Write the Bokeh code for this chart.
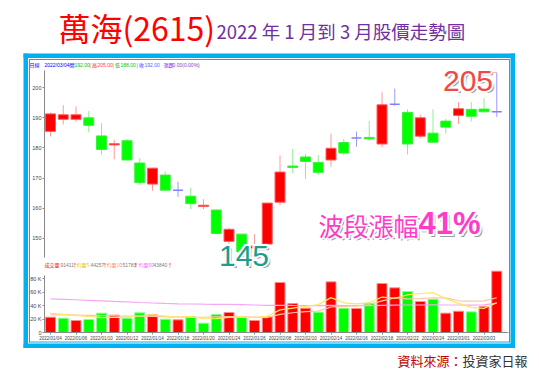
import numpy as np
import pandas as pd
from bokeh.plotting import figure
from bokeh.models import Range1d, LinearAxis, FixedTicker
from bokeh.core.properties import value
from bokeh.embed import file_html
from bokeh.resources import INLINE

# ---------------- data ----------------
dates = ["2022/01/04", "2022/01/05", "2022/01/06", "2022/01/07", "2022/01/10", "2022/01/11",
         "2022/01/12", "2022/01/13", "2022/01/14", "2022/01/17", "2022/01/18", "2022/01/19",
         "2022/01/20", "2022/01/21", "2022/01/24", "2022/01/25", "2022/01/26", "2022/02/07",
         "2022/02/08", "2022/02/09", "2022/02/10", "2022/02/11", "2022/02/14", "2022/02/15",
         "2022/02/16", "2022/02/17", "2022/02/18", "2022/02/21", "2022/02/22", "2022/02/23",
         "2022/02/24", "2022/02/25", "2022/03/01", "2022/03/02", "2022/03/03", "2022/03/04"]
opens = [185.5, 189.5, 189.5, 190.0, 184.0, 181.0, 182.4, 175.0, 168.0, 171.0, 166.0, 164.0,
         160.6, 159.4, 149.0, 151.4, 146.8, 148.1, 162.0, 174.0, 177.0, 175.2, 176.0, 181.8,
         183.3, 183.5, 181.3, 194.5, 191.8, 183.9, 184.9, 188.9, 190.8, 192.8, 192.9, 192.0]
highs = [191.7, 194.2, 193.8, 192.2, 188.2, 182.7, 182.9, 176.7, 173.4, 172.2, 168.8, 166.8,
         163.0, 159.6, 153.4, 151.6, 151.4, 161.8, 177.5, 179.7, 178.0, 177.6, 184.7, 183.0,
         185.4, 189.0, 198.5, 199.7, 192.8, 191.0, 192.8, 189.7, 195.2, 195.2, 196.5, 205.0]
lows = [183.8, 187.8, 188.7, 185.2, 177.8, 176.2, 175.9, 167.8, 165.8, 166.0, 163.8, 159.7,
        159.7, 151.5, 148.1, 145.0, 146.0, 148.0, 161.0, 171.6, 169.7, 171.0, 173.8, 177.6,
        180.4, 182.6, 180.2, 194.0, 177.8, 183.2, 181.5, 184.7, 188.0, 188.8, 191.7, 190.3]
closes = [191.3, 191.0, 191.0, 187.5, 179.5, 181.4, 176.0, 168.5, 173.3, 166.0, 166.0, 161.5,
          161.0, 151.6, 153.0, 145.5, 147.4, 161.7, 172.0, 173.5, 175.5, 171.9, 179.9, 178.3,
          183.3, 183.0, 194.3, 194.5, 181.3, 190.0, 181.9, 186.9, 193.0, 190.5, 192.0, 192.0]
volumes_k = [22.8, 21.3, 17.9, 19.4, 28.8, 25.8, 21.3, 29.3, 26.3, 19.8, 18.9, 23.4,
             13.9, 26.8, 29.8, 22.8, 17.9, 23.4, 74.5, 43.2, 36.2, 30.3, 75.5, 36.2,
             35.8, 43.7, 73.0, 66.6, 61.1, 46.2, 49.6, 28.8, 31.7, 30.8, 38.7, 91.4]
ma5_head = [28.5, 27.0, 25.5, 24.0]
ma10_head = [26.5, 26.3, 26.0, 25.6, 25.2, 24.8, 24.5, 24.2, 23.9]
ma60 = [50.2, 49.5, 48.8, 48.0, 47.2, 46.3, 45.5, 44.7, 44.0, 43.3, 42.8, 42.5,
        42.2, 42.0, 41.8, 41.5, 41.0, 40.5, 40.5, 40.3, 40.2, 40.0, 40.3, 40.2,
        40.0, 40.0, 40.5, 40.8, 41.0, 41.0, 41.2, 41.0, 41.0, 40.8, 41.2, 43.8]
price_ticks = [150, 160, 170, 180, 190, 200]
vol_ticks = [0, 20, 40, 60, 80]
vol_tick_labels = ["0", "20 K", "40 K", "60 K", "80 K"]
info_labels = ["日線", "2022/03/04", "開", "192.00", "| 高", "205.00", "| 低", "188.00",
               "| 收", "192.00", "漲跌", "0.00(0.00%)"]
legend_labels = ["成交量", "91411", "↑", "均量5", "44257", "↑", "均量10", "51783", "↑",
                 "均量60", "43840", "↑"]
title_main = "萬海(2615)"
title_sub = "2022 年 1 月到 3 月股價走勢圖"
source_label = "資料來源："
source_name = "投資家日報"

# ---------------- derived ----------------
n = len(dates)
idx = list(range(n))
vol_s = pd.Series(volumes_k)
ma5 = vol_s.rolling(5).mean().tolist()
ma10 = vol_s.rolling(10).mean().tolist()
ma5[:len(ma5_head)] = ma5_head
ma10[:len(ma10_head)] = ma10_head

RED, GREEN, BLUE = "#ff0000", "#00ff00", "#8080ff"
W = 0.78

status = ["up" if c > o else ("down" if c < o else "flat") for o, c in zip(opens, closes)]
fill_map = {"up": RED, "down": GREEN, "flat": BLUE}
edge_map = {"up": "#ff5a5a", "down": "#3cf03c", "flat": BLUE}
wick_map = {"up": "#ff9a9a", "down": "#8ef08e", "flat": "#9a9aff"}

# page geometry (pixels)
PAGE_W, PAGE_H = 539, 371
BAR0_X, BAR_PX = 50.0, 12.75
P_REF, P_REF_Y, P_PX = 190.0, 117.3, 3.014
V_ZERO_Y, V_PX = 332.0, 0.671

x_start = -BAR0_X / BAR_PX
x_end = (PAGE_W - BAR0_X) / BAR_PX
p_start = P_REF - (PAGE_H - P_REF_Y) / P_PX
p_end = P_REF + P_REF_Y / P_PX
v_start = -(PAGE_H - V_ZERO_Y) / V_PX
v_end = V_ZERO_Y / V_PX

left_edge = (44 - BAR0_X) / BAR_PX
right_edge = (508 - BAR0_X) / BAR_PX
p_axis_lo = P_REF - (257 - P_REF_Y) / P_PX
p_axis_hi = P_REF + (P_REF_Y - 70) / P_PX

p = figure(width=PAGE_W, height=PAGE_H, x_range=Range1d(x_start, x_end),
           y_range=Range1d(p_start, p_end), output_backend="svg", toolbar_location=None,
           x_axis_location=None, y_axis_location=None, min_border=0,
           outline_line_color=None, background_fill_color="white", border_fill_color="white")
p.extra_x_ranges = {"px": Range1d(0, PAGE_W)}
p.extra_y_ranges = {"vol": Range1d(v_start, v_end), "py": Range1d(PAGE_H, 0)}
p.xgrid.visible = False
p.ygrid.visible = False

PG = dict(x_range_name="px", y_range_name="py")

# ---------------- blue frame ----------------
FRAME = "#00b0f0"
p.quad(left=[23, 23, 23, 510, 28.5, 28.5, 28.5, 508.5],
       right=[514.5, 514.5, 27.5, 514.5, 509.5, 509.5, 29.5, 509.5],
       top=[53, 343, 53, 53, 58.5, 341, 58.5, 58.5],
       bottom=[57.5, 347.5, 347.5, 347.5, 59.5, 342, 342, 342],
       fill_color=FRAME, line_color=None, **PG)

# ---------------- candles ----------------
p.segment(x0=idx, y0=lows, x1=idx, y1=highs, line_color=[wick_map[s] for s in status], line_width=1)
body_i = [i for i in idx if status[i] != "flat"]
p.vbar(x=body_i, width=W,
       top=[max(opens[i], closes[i]) for i in body_i],
       bottom=[min(opens[i], closes[i]) for i in body_i],
       fill_color=[fill_map[status[i]] for i in body_i],
       line_color=[edge_map[status[i]] for i in body_i], line_width=1)
flat_i = [i for i in idx if status[i] == "flat"]
p.segment(x0=[i - W / 2 for i in flat_i], x1=[i + W / 2 for i in flat_i],
          y0=[closes[i] for i in flat_i], y1=[closes[i] for i in flat_i],
          line_color=BLUE, line_width=1.5)

# 205 callout marker
hi_i = int(np.argmax(highs))
p.segment(x0=[hi_i - 0.55], x1=[hi_i], y0=[highs[hi_i]], y1=[highs[hi_i]], line_color="#ffb0b0", line_width=1)
p.scatter(x=[hi_i - 0.55], y=[highs[hi_i]], marker="square", size=4, fill_color="#ffb0b0", line_color="#ff8080")

# ---------------- volume ----------------
vcol, vedge = [], []
for i in idx:
    prev = closes[i - 1] if i > 0 else opens[0]
    up = closes[i] >= prev
    vcol.append(RED if up else GREEN)
    vedge.append("#ff8c8c" if up else "#8cff8c")
p.vbar(x=idx, width=W, top=volumes_k, bottom=0, fill_color=vcol, line_color=vedge,
       line_width=1, y_range_name="vol")
p.line(idx, ma60, line_color="#f4a8f4", line_width=1.2, y_range_name="vol")
p.line(idx, ma10, line_color="#ffc4a4", line_width=1.2, y_range_name="vol")
p.line(idx, ma5, line_color="#fbe860", line_width=1.2, y_range_name="vol")

# ---------------- axes ----------------
AX = "#8a8a8a"
LBL = "#454545"
SANS = "Liberation Sans"

def style_axis(ax, size="5.5px"):
    ax.axis_line_color = AX
    ax.major_tick_line_color = AX
    ax.minor_tick_line_color = None
    ax.major_tick_out = 2
    ax.major_tick_in = 0
    ax.major_label_text_font = SANS
    ax.major_label_text_font_size = size
    ax.major_label_text_color = LBL
    ax.major_label_standoff = 1

yax = LinearAxis(fixed_location=left_edge, bounds=(p_axis_lo, p_axis_hi),
                 ticker=FixedTicker(ticks=price_ticks))
style_axis(yax)
p.add_layout(yax, "left")

vax = LinearAxis(y_range_name="vol", fixed_location=left_edge, bounds=(0, 85),
                 ticker=FixedTicker(ticks=vol_ticks),
                 major_label_overrides={t: l for t, l in zip(vol_ticks, vol_tick_labels)})
style_axis(vax)
p.add_layout(vax, "left")

xt = idx[::2]
xax = LinearAxis(y_range_name="vol", fixed_location=0, bounds=(left_edge, right_edge),
                 ticker=FixedTicker(ticks=xt),
                 major_label_overrides={i: dates[i] for i in xt})
style_axis(xax, size="4.5px")
p.add_layout(xax, "below")

# ---------------- texts ----------------
CJK = "Noto Sans CJK TC"

def txt(x, y, t, color, font=CJK, size="6px", style="normal", align="left", baseline="middle"):
    p.text(x=x, y=y, text=t, text_color=color, text_font=value(font), text_font_size=value(size),
           text_font_style=style, text_align=align, text_baseline=baseline, **PG)

# title
txt([58], [26], [title_main], "#ff0000", size="32px")
txt([216], [30], [title_sub], "#7030a0", size="18.5px")

# info line
info_x = [29, 44, 69, 74, 89, 97, 112, 120, 136, 144, 163, 172]
info_c = ["#0000ff", "#0000ff", "#0000ff", "#00c000", "#ff0000", "#ff4040", "#00b000", "#00c000",
          "#3030ff", "#6060ff", "#8000ff", "#8040c0"]
for x, t, c in zip(info_x, info_labels, info_c):
    is_num = t[0].isdigit()
    txt([x], [64], [t], c, font=SANS if is_num else CJK, size="5px")

# volume legend line
leg_x = [44, 60, 72, 76, 90, 102, 106, 122, 133, 138, 153, 167]
leg_c = ["#ff0000", "#808080", "#ff0000", "#e8c000", "#808080", "#ff0000", "#ff8c5a", "#808080",
         "#ff0000", "#ff60ff", "#808080", "#ff0000"]
for x, t, c in zip(leg_x, legend_labels, leg_c):
    is_num = t[0].isdigit()
    txt([x], [264], [t], c, font=SANS if is_num else CJK, size="5px")

# source
txt([397], [360], [source_label], "#c00000", size="13px")
txt([462], [360], [source_name], "#333333", size="13px")

# fancy outlined annotations
def fancy(x, y, t, color, font, size, style="normal", align="left"):
    common = dict(font=font, size=size, style=style, align=align)
    txt([x + 2.5], [y + 2.5], [t], "#9a9a9a", **common)
    offs = [(-1.5, -1.5), (0, -2), (1.5, -1.5), (-2, 0), (2, 0), (-1.5, 1.5), (0, 2), (1.5, 1.5)]
    txt([x + dx for dx, dy in offs], [y + dy for dx, dy in offs], [t] * len(offs), "white", **common)
    txt([x], [y], [t], color, **common)

low_v = min(lows)
high_v = max(highs)
pct = round((high_v - low_v) / low_v * 100)
fancy(243.5, 255, f"{low_v:.0f}", "#1c9e8c", SANS, "30px", align="center")
fancy(467.5, 80, f"{high_v:.0f}", "#f24848", SANS, "30px", align="center")
fancy(318, 224, "波段漲幅", "#ff3cc8", CJK, "25px")
fancy(418, 223, f"{pct}%", "#ff3cc8", SANS, "31px", style="bold")

open("out.html", "w").write(file_html(p, INLINE))
